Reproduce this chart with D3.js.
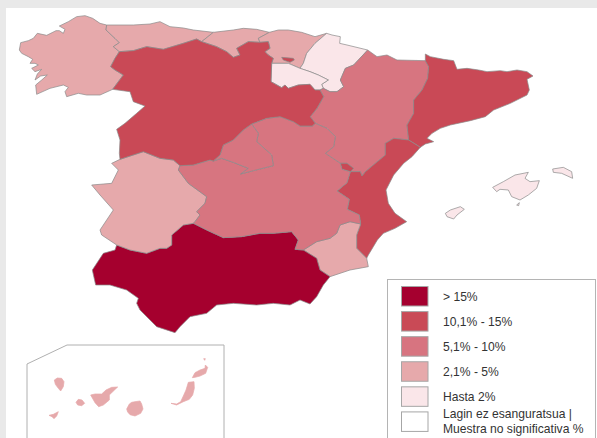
<!DOCTYPE html>
<html>
<head>
<meta charset="utf-8">
<script src="https://cdn.jsdelivr.net/npm/d3@7"></script>
<style>
  html, body { margin: 0; padding: 0; background: #e9e9e9; overflow: hidden; }
  svg { display: block; }
  text { font-family: "Liberation Sans", Arial, sans-serif; font-size: 12.1px; fill: #333; }
</style>
</head>
<body>
<div id="chart-area"></div>
<script>
// outlines, map units are 1/3 of a pixel
var galicia = [[58,150],[62,128],[85,122],[100,115],[112,100],[140,106],[168,92],[178,92],[190,100],[195,88],[178,78],[205,65],[230,50],[255,47],[278,55],[300,70],[320,75],[318,90],[345,115],[358,128],[340,140],[358,155],[345,175],[332,200],[345,210],[370,225],[355,245],[338,268],[300,285],[260,285],[235,280],[200,290],[195,275],[205,262],[190,255],[150,265],[110,283],[107,255],[125,240],[142,225],[122,228],[105,240],[112,222],[125,208],[105,215],[95,205],[115,195],[105,190],[90,190],[98,178],[85,170],[65,160]];
var asturias = [[320,75],[400,75],[450,72],[480,65],[510,80],[550,84],[580,90],[640,97],[605,125],[590,117],[550,130],[490,148],[440,140],[400,152],[358,155],[340,140],[358,128],[345,115],[318,90]];
var cantabria = [[640,97],[700,90],[730,85],[770,88],[808,97],[775,115],[780,127],[745,125],[710,145],[720,165],[700,172],[680,155],[650,140],[605,125]];
var paisVasco = [[808,97],[835,90],[865,90],[905,97],[945,110],[980,100],[945,130],[920,160],[910,190],[900,205],[865,190],[815,190],[820,175],[805,165],[795,155],[810,145],[805,125],[780,127],[775,115]];
var navarra = [[980,100],[996,105],[1021,110],[1019,130],[1041,135],[1103,150],[1061,195],[1036,205],[1021,240],[1031,260],[1011,275],[990,275],[970,265],[965,253],[985,240],[955,225],[930,215],[900,205],[910,190],[920,160],[945,130]];
var rioja = [[815,190],[865,190],[900,205],[930,215],[955,225],[985,240],[965,253],[970,265],[960,270],[945,270],[930,253],[895,255],[865,265],[855,255],[845,263],[813,245]];
var aragon = [[1103,150],[1131,170],[1161,165],[1191,180],[1276,182],[1286,200],[1283,235],[1266,270],[1241,300],[1241,340],[1221,375],[1226,420],[1181,415],[1156,430],[1156,465],[1126,490],[1096,515],[1086,528],[1081,515],[1051,515],[1061,505],[1041,490],[1021,490],[976,460],[1001,440],[1006,410],[981,385],[946,370],[931,350],[951,325],[971,290],[960,270],[970,265],[990,275],[1011,275],[1031,260],[1021,240],[1036,205],[1061,195]];
var cataluna = [[1276,162],[1291,170],[1331,178],[1361,182],[1371,208],[1401,205],[1436,210],[1461,215],[1501,212],[1521,215],[1551,210],[1581,215],[1599,228],[1581,238],[1588,270],[1581,285],[1531,310],[1481,330],[1456,350],[1411,362],[1351,375],[1321,385],[1296,400],[1281,415],[1301,425],[1276,432],[1261,442],[1226,420],[1221,375],[1241,340],[1241,300],[1266,270],[1283,235],[1286,200],[1276,182]];
var valencia = [[1181,415],[1226,420],[1261,442],[1236,470],[1211,490],[1181,525],[1158,570],[1165,610],[1185,640],[1220,665],[1185,685],[1150,700],[1132,720],[1120,740],[1105,765],[1100,775],[1070,745],[1070,705],[1082,672],[1078,645],[1042,628],[1048,598],[1011,573],[1041,548],[1051,515],[1081,515],[1086,528],[1096,515],[1126,490],[1156,465],[1156,430]];
var ademuz = [[1021,490],[1041,490],[1061,505],[1051,515],[1026,508]];
var murcia = [[910,750],[950,725],[990,715],[1010,700],[1020,675],[1050,665],[1082,672],[1070,705],[1070,745],[1100,775],[1105,800],[1050,810],[990,830],[960,810],[950,775]];
var andalucia = [[277,810],[310,760],[345,750],[350,735],[390,750],[440,760],[480,745],[500,745],[515,735],[515,705],[550,675],[580,670],[620,690],[670,713],[725,710],[780,700],[820,700],[875,695],[895,720],[885,748],[910,750],[950,775],[960,810],[990,830],[970,855],[950,890],[930,912],[900,900],[870,915],[820,910],[770,915],[700,910],[650,915],[620,940],[570,950],[540,980],[525,998],[470,980],[440,950],[420,930],[410,910],[415,895],[380,870],[330,855],[287,855]];
var extremadura = [[550,675],[580,670],[585,665],[600,645],[590,635],[615,610],[620,590],[565,550],[535,510],[540,497],[520,480],[480,475],[430,455],[360,478],[335,490],[355,510],[335,550],[275,555],[300,585],[340,630],[300,690],[305,705],[350,735],[390,750],[440,760],[480,745],[500,745],[515,735],[515,705]];
var castillaLeon = [[358,155],[400,152],[440,140],[490,148],[550,130],[590,117],[605,125],[650,140],[680,155],[700,172],[720,165],[710,145],[745,125],[780,127],[805,125],[810,145],[795,155],[805,165],[820,175],[815,190],[813,245],[845,263],[855,255],[865,265],[895,255],[930,253],[945,270],[960,270],[971,290],[951,325],[931,350],[946,370],[937,378],[900,378],[880,365],[840,350],[800,355],[755,372],[730,390],[700,420],[670,435],[660,465],[640,483],[630,480],[580,495],[540,497],[520,480],[480,475],[430,455],[360,478],[358,460],[360,420],[350,388],[375,370],[410,340],[435,318],[400,305],[390,275],[338,268],[355,245],[370,225],[345,210],[332,200],[345,175]];
var trevino = [[845,172],[880,175],[883,180],[870,187],[850,180]];
var madrid = [[640,483],[660,465],[670,435],[700,420],[730,390],[755,372],[775,400],[770,425],[815,465],[820,497],[760,512],[722,522],[745,505],[700,487],[665,475]];
var castillaMancha = [[540,497],[580,495],[630,480],[640,483],[665,475],[700,487],[745,505],[722,522],[760,512],[820,497],[815,465],[770,425],[775,400],[755,372],[800,355],[840,350],[880,365],[900,378],[937,378],[946,370],[981,385],[1006,410],[1001,440],[976,460],[1021,490],[1026,508],[1051,515],[1041,548],[1011,573],[1048,598],[1042,628],[1078,645],[1082,672],[1050,665],[1020,675],[1010,700],[990,715],[950,725],[910,750],[885,748],[895,720],[875,695],[820,700],[780,700],[725,710],[670,713],[620,690],[580,670],[585,665],[600,645],[590,635],[615,610],[620,590],[565,550],[535,510]];
var mallorca = [[1478,562],[1510,545],[1545,525],[1585,517],[1575,535],[1590,545],[1618,542],[1610,565],[1585,585],[1560,600],[1535,590],[1525,570],[1500,568],[1490,575]];
var menorca = [[1658,507],[1690,502],[1715,515],[1718,535],[1685,520],[1660,517]];
var ibiza = [[1336,640],[1351,630],[1381,620],[1393,628],[1371,645],[1361,657],[1341,650]];
var cabrera = [[1550,615],[1558,608],[1556,617]];
var laPalma = [[163,1140],[172,1134],[185,1135],[192,1145],[190,1160],[182,1173],[175,1165],[166,1153]];
var gomera = [[228,1207],[235,1198],[246,1200],[254,1210],[245,1217],[233,1215]];
var hierro = [[147,1246],[160,1243],[175,1235],[170,1248],[162,1256],[156,1250]];
var tenerife = [[272,1185],[285,1182],[305,1182],[318,1170],[335,1162],[353,1161],[338,1175],[328,1185],[328,1200],[310,1215],[296,1220],[285,1208]];
var granCanaria = [[380,1227],[388,1212],[395,1207],[405,1205],[420,1203],[425,1212],[429,1227],[422,1240],[405,1248],[390,1244],[383,1236]];
var fuerteventura = [[513,1210],[530,1212],[542,1205],[550,1188],[558,1170],[565,1147],[582,1145],[583,1165],[578,1185],[568,1198],[550,1205],[530,1215]];
var lanzarote = [[577,1133],[585,1118],[600,1110],[615,1105],[616,1095],[623,1102],[617,1120],[600,1128],[585,1132]];
var graciosa = [[611,1076],[616,1076],[614,1081]];

var regionNames = ["Galicia", "Asturias", "Cantabria", "Pais Vasco", "Navarra", "La Rioja", "Aragon", "Cataluna", "Comunidad Valenciana", "Murcia", "Andalucia", "Extremadura", "Castilla-La Mancha", "Madrid", "Castilla y Leon", "Baleares", "Canarias"];
var regionShapes = [[galicia], [asturias], [cantabria], [paisVasco], [navarra], [rioja], [aragon], [cataluna], [valencia, ademuz], [murcia], [andalucia], [extremadura], [castillaMancha], [madrid], [castillaLeon, trevino], [mallorca, menorca, ibiza, cabrera], [laPalma, gomera, hierro, tenerife, granCanaria, fuerteventura, lanzarote, graciosa]];
// only the class can be read, so each value is a guess inside its class
var regionValues = [4, 4, 4, 4, 2, 2, 8, 12, 12, 4, 16, 4, 8, 8, 12, 2, 4];

var classBreaks = [2.05, 5.05, 10.05, 15.05];
var classColors = ["#fae6e9", "#e6a9ab", "#d77480", "#c94a56", "#a5002f"];
var legendLabels = ["> 15%", "10,1% - 15%", "5,1% - 10%", "2,1% - 5%", "Hasta 2%"];
var legendColors = ["#a5002f", "#c94a56", "#d77480", "#e6a9ab", "#fae6e9", "#ffffff"];
var noSampleLabels = ["Lagin ez esanguratsua |", "Muestra no significativa %"];

var color = d3.scaleThreshold().domain(classBreaks).range(classColors);

var svg = d3.select("#chart-area").append("svg")
	.attr("width", 597)
	.attr("height", 438);

svg.append("rect").attr("x", 6).attr("y", 8).attr("width", 591).attr("height", 430).attr("fill", "#fff");

var defs = svg.append("defs");
defs.append("filter").attr("id", "soft").append("feGaussianBlur").attr("stdDeviation", 0.5);

var path = d3.geoPath(d3.geoIdentity().scale(1 / 3));

var features = regionNames.map(function (name, i) {
	return {
		type: "Feature",
		properties: { name: name, value: regionValues[i] },
		geometry: {
			type: "MultiPolygon",
			coordinates: regionShapes[i].map(function (ring) { return [ring.concat([ring[0]])]; })
		}
	};
});

svg.append("g").attr("filter", "url(#soft)")
	.selectAll("path").data(features).join("path")
	.attr("d", path)
	.attr("fill", function (d) { return color(d.properties.value); })
	.attr("stroke", function (d) { return d.properties.name == "Canarias" ? color(d.properties.value) : "#8a8a8a"; })
	.attr("stroke-width", 0.7)
	.attr("stroke-linejoin", "round");

// canarias frame, cut off by the bottom of the picture
svg.append("polyline")
	.attr("points", [[27, 438], [27, 364], [67, 345], [224, 345], [224, 438]])
	.attr("fill", "none").attr("stroke", "#b0b0b0").attr("stroke-width", 1);

// legend
svg.append("rect").attr("x", 387.5).attr("y", 279.5).attr("width", 208).attr("height", 170)
	.attr("fill", "#fff").attr("stroke", "#b4b4b4").attr("stroke-width", 1);

var legendY = d3.scaleBand().domain(d3.range(legendColors.length)).range([283.5, 434]);

svg.append("g").selectAll("rect").data(legendColors).join("rect")
	.attr("x", 401.5)
	.attr("y", function (d, i) { return legendY(i) + 3; })
	.attr("width", 26.5)
	.attr("height", 19.5)
	.attr("fill", function (d) { return d; })
	.attr("stroke", "#a6a6a6")
	.attr("stroke-width", 1);

svg.append("g").selectAll("text").data(legendLabels).join("text")
	.attr("x", 443)
	.attr("y", function (d, i) { return legendY(i) + 17; })
	.text(function (d) { return d; });

svg.append("g").selectAll("text").data(noSampleLabels).join("text")
	.attr("x", 443)
	.attr("y", function (d, i) { return 418 + i * 15; })
	.text(function (d) { return d; });
</script>
</body>
</html>
